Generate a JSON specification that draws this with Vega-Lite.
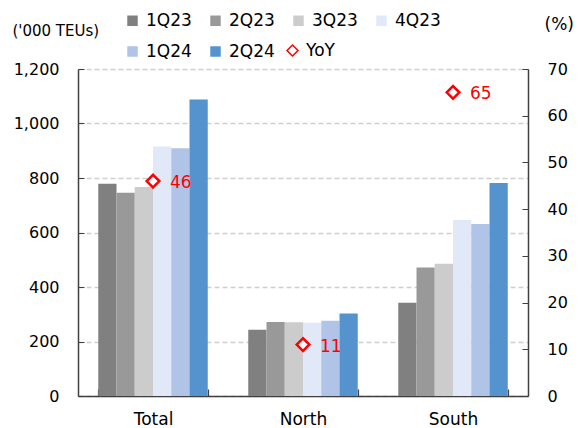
{
  "$schema": "https://vega.github.io/schema/vega-lite/v6.json",
  "autosize": {"type": "none"},
  "width": 450,
  "height": 327,
  "padding": {"left": 78, "top": 69, "right": 60, "bottom": 32},
  "background": "white",
  "config": {
    "font": "DejaVu Sans",
    "view": {"stroke": null},
    "axis": {"labelFont": "DejaVu Sans", "titleFont": "DejaVu Sans", "labelColor": "#000000", "titleColor": "#000000"}
  },
  "datasets": {
    "bars": [
      {"region": "Total", "quarter": "1Q23", "teu": 779},
      {"region": "Total", "quarter": "2Q23", "teu": 746},
      {"region": "Total", "quarter": "3Q23", "teu": 767},
      {"region": "Total", "quarter": "4Q23", "teu": 916},
      {"region": "Total", "quarter": "1Q24", "teu": 909},
      {"region": "Total", "quarter": "2Q24", "teu": 1088},
      {"region": "North", "quarter": "1Q23", "teu": 243},
      {"region": "North", "quarter": "2Q23", "teu": 272},
      {"region": "North", "quarter": "3Q23", "teu": 271},
      {"region": "North", "quarter": "4Q23", "teu": 269},
      {"region": "North", "quarter": "1Q24", "teu": 276},
      {"region": "North", "quarter": "2Q24", "teu": 303},
      {"region": "South", "quarter": "1Q23", "teu": 342},
      {"region": "South", "quarter": "2Q23", "teu": 472},
      {"region": "South", "quarter": "3Q23", "teu": 485},
      {"region": "South", "quarter": "4Q23", "teu": 646},
      {"region": "South", "quarter": "1Q24", "teu": 631},
      {"region": "South", "quarter": "2Q24", "teu": 782}
    ],
    "yoy": [
      {"region": "Total", "yoy": 46, "series": "YoY"},
      {"region": "North", "yoy": 11, "series": "YoY"},
      {"region": "South", "yoy": 65, "series": "YoY"}
    ]
  },
  "encoding": {
    "x": {
      "field": "region", "type": "nominal", "sort": ["Total", "North", "South"],
      "scale": {"paddingInner": 0.27, "paddingOuter": 0.135},
      "axis": {
        "title": null, "labelAngle": 0, "labelFontSize": 17, "labelPadding": 22,
        "tickBand": "extent", "tickSize": -7, "tickColor": "#404040", "domainColor": "#404040",
        "domainWidth": 1.5, "tickWidth": 1.2
      }
    }
  },
  "layer": [
    {
      "data": {"name": "bars"},
      "mark": {"type": "bar"},
      "encoding": {
        "xOffset": {"field": "quarter", "type": "nominal", "sort": ["1Q23", "2Q23", "3Q23", "4Q23", "1Q24", "2Q24"], "scale": {"paddingInner": 0, "paddingOuter": 0}},
        "y": {
          "field": "teu", "type": "quantitative",
          "scale": {"domain": [0, 1200]},
          "axis": {
            "values": [0, 200, 400, 600, 800, 1000, 1200],
            "format": ",d",
            "title": "('000 TEUs)", "titleAngle": 0, "titleAlign": "left", "titleBaseline": "middle",
            "titleX": -66, "titleY": -39, "titleFontSize": 15, "titleFontWeight": "normal",
            "labelFontSize": 16, "labelPadding": 25,
            "tickSize": -6, "tickColor": "#404040", "domainColor": "#404040", "domainWidth": 1.5,
            "grid": true, "gridColor": "#d0d0d0", "gridDash": [5, 3], "gridWidth": 1.5
          }
        },
        "color": {
          "field": "quarter", "type": "nominal",
          "sort": ["1Q23", "2Q23", "3Q23", "4Q23", "1Q24", "2Q24"],
          "scale": {"domain": ["1Q23", "2Q23", "3Q23", "4Q23", "1Q24", "2Q24"], "range": ["#808080", "#999999", "#cccccc", "#e1e8f7", "#afc4e6", "#5593cf"]},
          "legend": {
            "title": null, "orient": "none", "legendX": 46, "legendY": -57,
            "columns": 4, "direction": "horizontal", "symbolType": "square", "symbolSize": 110,
            "symbolStrokeWidth": 0, "labelFontSize": 17, "labelOffset": 5, "columnPadding": 15, "rowPadding": 13,
            "labelColor": "#000000"
          }
        }
      }
    },
    {
      "data": {"name": "yoy"},
      "mark": {"type": "point", "shape": "diamond", "filled": false, "color": "#ff0000", "fill": "white", "fillOpacity": 1, "strokeWidth": 2.5, "size": 160, "opacity": 1},
      "encoding": {
        "y": {
          "field": "yoy", "type": "quantitative",
          "scale": {"domain": [0, 70]},
          "axis": {
            "orient": "right",
            "values": [0, 10, 20, 30, 40, 50, 60, 70],
            "title": "(%)", "titleAngle": 0, "titleAlign": "left", "titleBaseline": "middle",
            "titleX": 16, "titleY": -45, "titleFontSize": 17, "titleFontWeight": "normal",
            "labelFontSize": 16, "labelPadding": 25,
            "tickSize": -6, "tickColor": "#404040", "domainColor": "#404040", "domainWidth": 1.5,
            "grid": false
          }
        },
        "shape": {
          "field": "series", "type": "nominal",
          "scale": {"domain": ["YoY"], "range": ["diamond"]},
          "legend": {
            "title": null, "orient": "none", "legendX": 206, "legendY": -27,
            "symbolType": "diamond", "symbolSize": 120,
            "labelFontSize": 17, "labelOffset": 5, "labelColor": "#000000",
            "encode": {"symbols": {"update": {"stroke": {"value": "#ff0000"}, "strokeWidth": {"value": 2.5}, "fill": {"value": "white"}, "opacity": {"value": 1}, "strokeOpacity": {"value": 1}}}}
          }
        }
      }
    },
    {
      "data": {"name": "yoy"},
      "mark": {"type": "text", "align": "left", "baseline": "middle", "dx": 17, "dy": 2, "color": "#ff0000", "fontSize": 17},
      "encoding": {
        "y": {"field": "yoy", "type": "quantitative", "scale": {"domain": [0, 70]}, "axis": null},
        "text": {"field": "yoy", "type": "quantitative"}
      }
    }
  ],
  "resolve": {"scale": {"y": "independent", "shape": "independent"}}
}
